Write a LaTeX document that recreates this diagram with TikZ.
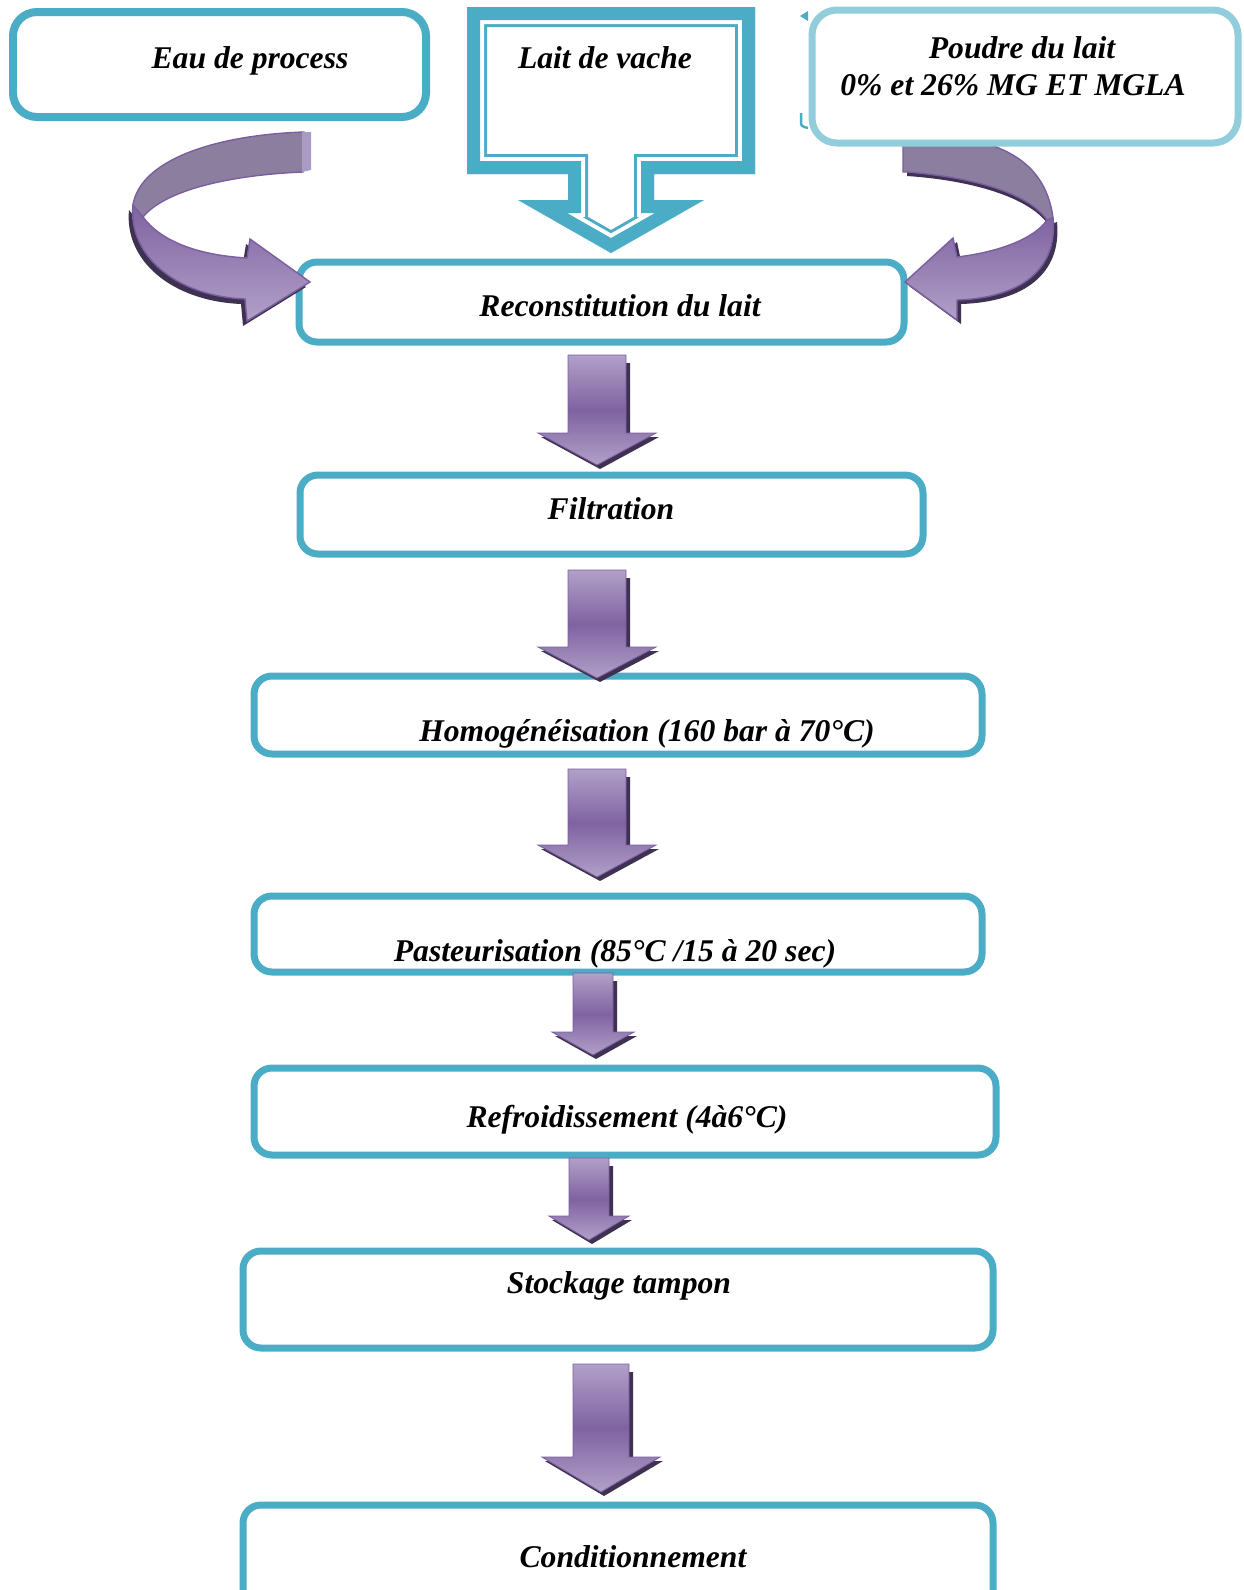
\documentclass[tikz,border=0pt]{standalone}
\usepackage{fontspec}
\setmainfont{Liberation Serif}
\usetikzlibrary{fit}
\definecolor{aqua}{HTML}{4BACC6}
\definecolor{aqualt}{HTML}{92CDDC}
\definecolor{purp}{HTML}{7F63A1}
\definecolor{purplt}{HTML}{B1A0C8}
\definecolor{purpdk}{HTML}{3F3151}
\definecolor{purpgray}{HTML}{8C7E9F}
\definecolor{purpline}{HTML}{7A5FA0}
\definecolor{purpcap}{HTML}{A99BC4}
\newcommand{\darrow}[7]{%
  \fill[purpdk] (#2-#6+4,#3+8) -- (#2+#6+4,#3+8) -- (#2+#6+4,#4+4) -- (#2+#7+3,#4+4) -- (#2+3,#5+4) -- (#2-#7+3,#4+4) -- (#2-#6+4,#4+4) -- cycle;
  \shade[top color=purplt, bottom color=purplt, middle color=purp, draw=purpline, line width=0.5pt]
    (#2-#6,#3) -- (#2+#6,#3) -- (#2+#6,#4) -- (#2+#7,#4) -- (#2,#5) -- (#2-#7,#4) -- (#2-#6,#4) -- cycle;
  \coordinate (#1) at (#2,#5);
}
\begin{document}
\begin{tikzpicture}[x=0.02cm,y=-0.02cm,
  box/.style={draw=aqua, line width=0.14cm, rounded corners=0.36cm, inner sep=0pt, fill=white},
  lbl/.style={font=\fontsize{18}{22}\selectfont\bfseries\itshape, anchor=base, inner sep=0pt}]
\useasboundingbox (0,0) rectangle (1244,1590);
\clip (0,0) rectangle (1244,1590);

% top source boxes
\node[box, line width=0.16cm, rounded corners=0.48cm, fit={(13,12) (426,117)}] (eau) {};

\def\laitpath{(467,7) -- (755,7) -- (755,174) -- (654,174) -- (654,200) -- (704,200) -- (611,253) -- (518,200) -- (568,200) -- (568,174) -- (467,174) -- cycle}
\begin{scope}
  \clip \laitpath;
  \fill[white] \laitpath;
  \draw[aqua, line width=0.8cm, line join=miter] \laitpath;
  \draw[white, line width=0.68cm, line join=miter] \laitpath;
  \draw[aqua, line width=0.52cm, line join=miter] \laitpath;
\end{scope}
\coordinate (lait) at (611,253);

% main process boxes
\node[box, fit={(299,262) (904,342)}] (recon) {};
\node[box, fit={(300,475) (923,554)}] (filt) {};
\node[box, fit={(254,676) (982,754)}] (homog) {};
\node[box, fit={(254,896) (982,972)}] (past) {};
\node[box, fit={(254,1068) (996,1155)}] (refr) {};
\node[box, fit={(243,1251) (993,1348)}] (stock) {};
\node[box, fit={(243,1505) (993,1640)}] (cond) {};

% left curved arrow
\begin{scope}[shift={(-4,5)}]
  \fill[purpdk] (133,205) .. controls (128,255) and (175,296) .. (245,299) -- (247,321) -- (310,282) -- (250,239) -- (247,258) .. controls (195,255) and (160,240) .. (143,217) -- cycle;
\end{scope}
\fill[purpgray, draw=purpline, line width=0.8pt] (304,132) .. controls (215,135) and (140,160) .. (133,205) -- (143,217) .. controls (165,190) and (230,175) .. (303,172) -- cycle;
\fill[purpcap] (302,132) -- (311,132) -- (311,170) -- (302,172) -- cycle;
\shade[top color=purp, bottom color=purplt, draw=purpline, line width=0.8pt] (133,205) .. controls (128,255) and (175,296) .. (245,299) -- (247,321) -- (310,282) -- (250,239) -- (247,258) .. controls (195,255) and (160,240) .. (143,217) -- cycle;

% right curved arrow
\begin{scope}[shift={(4,4)}]
  \fill[purpdk] (1053,218) .. controls (1058,270) and (1020,298) .. (957,300) -- (957,320) -- (905,282) -- (953,238) -- (957,257) .. controls (1000,252) and (1035,238) .. (1047,220) -- cycle;
\end{scope}
\fill[purpdk] (907,170) .. controls (980,176) and (1030,193) .. (1049,218) -- (1047,223) .. controls (1030,200) and (980,181) .. (907,176) -- cycle;
\fill[purpgray, draw=purpline, line width=0.8pt] (903,135) .. controls (990,133) and (1045,155) .. (1053,218) -- (1047,220) .. controls (1030,195) and (980,178) .. (907,172) -- (903,172) -- cycle;
\shade[top color=purp, bottom color=purplt, draw=purpline, line width=0.8pt] (1053,218) .. controls (1058,270) and (1020,298) .. (957,300) -- (957,320) -- (905,282) -- (953,238) -- (957,257) .. controls (1000,252) and (1035,238) .. (1047,220) -- cycle;

% poudre box (over the arrow tail)
\fill[aqua] (800,16) -- (808,11) -- (808,21) -- cycle;
\draw[aqua, line width=0.05cm] (801,113) -- (801,121) .. controls (801,126) .. (808,128);
\node[box, draw=aqualt, line width=0.14cm, rounded corners=0.5cm, fit={(812,10) (1238,143)}] (poudre) {};

% down block arrows
\darrow{a1}{597}{355}{433}{465}{29}{59}
\darrow{a2}{597}{570}{647}{678}{29}{59}
\darrow{a3}{597}{769}{845}{877}{29}{59}
\darrow{a4}{593}{973}{1032}{1055}{20}{41}
\darrow{a5}{589}{1158}{1216}{1240}{20}{40}
\darrow{a6}{601}{1364}{1457}{1492}{28}{59}

% labels
\node[lbl] (teau) at (250,68) {Eau de process};
\node[lbl] (tlait) at (605,68) {Lait de vache};
\node[lbl] (tpoudre1) at (1022,58) {Poudre du lait};
\node[lbl] (tpoudre2) at (1013,95) {0\% et 26\% MG ET MGLA};
\node[lbl] (trecon) at (620,316) {Reconstitution du lait};
\node[lbl] (tfilt) at (611,519) {Filtration};
\node[lbl] (thomog) at (647,741) {Homogénéisation (160 bar à 70°C)};
\node[lbl] (tpast) at (615,961) {Pasteurisation (85°C /15 à 20 sec)};
\node[lbl] (trefr) at (627,1127) {Refroidissement (4à6°C)};
\node[lbl] (tstock) at (619,1293) {Stockage tampon};
\node[lbl] (tcond) at (633,1567) {Conditionnement};
\end{tikzpicture}
\end{document}
